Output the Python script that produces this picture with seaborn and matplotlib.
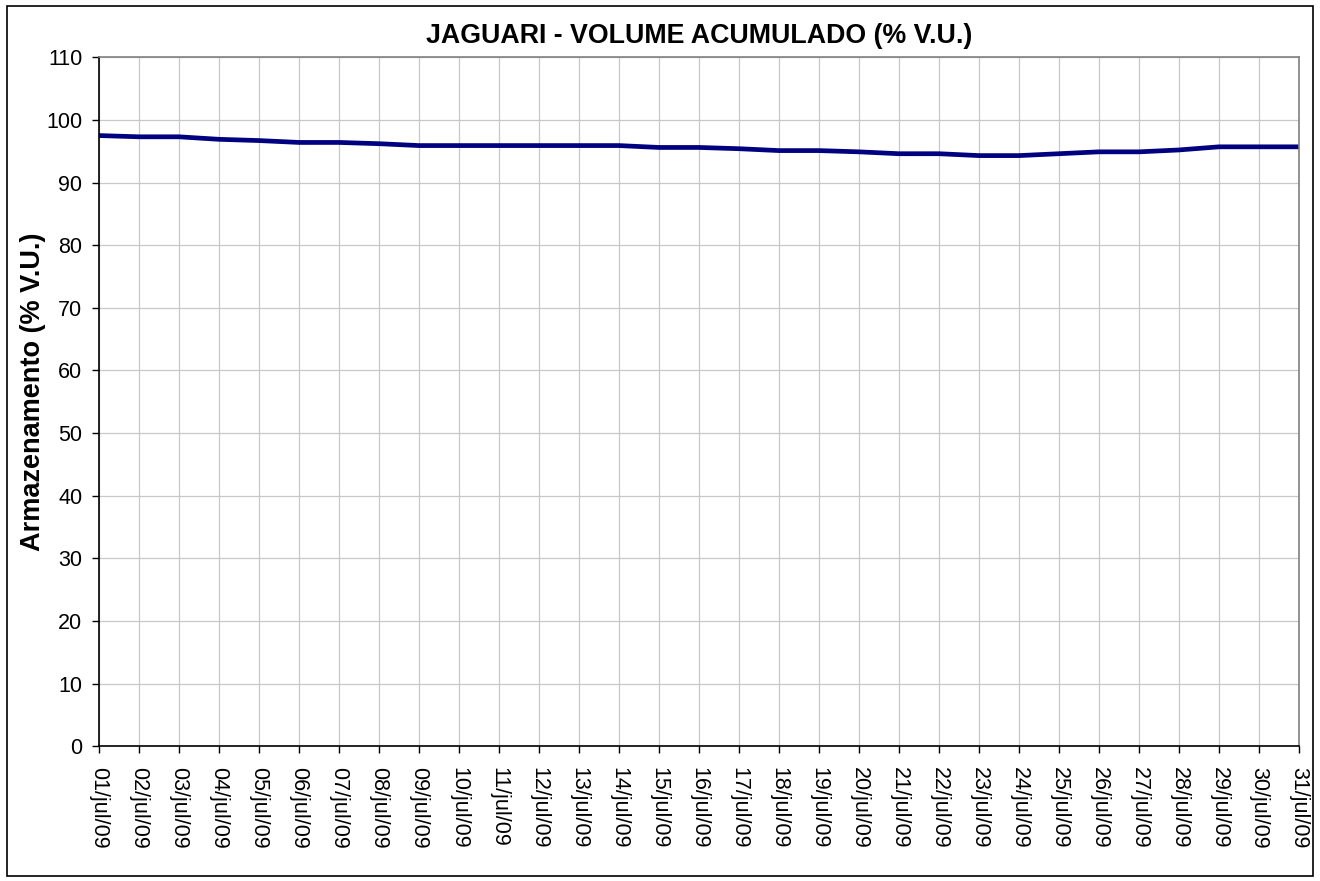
import matplotlib
matplotlib.use("Agg")
import matplotlib.pyplot as plt
import seaborn as sns
import pandas as pd
from matplotlib.patches import Rectangle

# Data
days = [f"{d:02d}/jul/09" for d in range(1, 32)]
volume = [97.5, 97.3, 97.3, 96.9, 96.7, 96.4, 96.4, 96.2, 95.9, 95.9,
          95.9, 95.9, 95.9, 95.9, 95.6, 95.6, 95.4, 95.1, 95.1, 94.9,
          94.6, 94.6, 94.3, 94.3, 94.6, 94.9, 94.9, 95.2, 95.7, 95.7, 95.7]
y_ticks = list(range(0, 111, 10))

sns.set_theme(style="whitegrid")
plt.rcParams['font.family'] = ['Liberation Sans', 'DejaVu Sans']
plt.rcParams['text.color'] = 'black'

df = pd.DataFrame({"dia": days, "volume": volume})

fig = plt.figure(figsize=(13.2, 8.81), dpi=100)
ax = fig.add_axes([0.075, 0.153, 0.909, 0.782])

sns.lineplot(data=df, x="dia", y="volume", color="#000080", linewidth=3.4, ax=ax, sort=False)

ax.set_xlim(0, len(days) - 1)
ax.set_ylim(0, 110)
ax.set_yticks(y_ticks)
ax.set_xticks(range(len(days)))
ax.set_xticklabels(days, rotation=270, fontsize=15.5)
ax.tick_params(axis='y', labelsize=15.5, pad=7)
ax.tick_params(axis='x', pad=10)
ax.tick_params(axis='both', which='major', direction='out', length=5, width=1,
               color='black', labelcolor='black', bottom=True, left=True)

ax.grid(True, color='#c8c8c8', linewidth=0.9)
ax.set_facecolor('white')
for side in ['top', 'right']:
    ax.spines[side].set_color('#808080')
    ax.spines[side].set_linewidth(1.2)
for side in ['left', 'bottom']:
    ax.spines[side].set_color('black')
    ax.spines[side].set_linewidth(1.2)

ax.set_xlabel('')
ax.set_ylabel('Armazenamento (% V.U.)', fontsize=19.5, fontweight='bold', color='black')
ax.yaxis.set_label_coords(-0.044, 0.515)
ax.set_title('JAGUARI - VOLUME ACUMULADO (% V.U.)', fontsize=19.3, fontweight='bold', pad=10, color='black')

# outer chart border
fig.patches.append(Rectangle((0.005, 0.006), 0.99, 0.987, transform=fig.transFigure,
                             fill=False, edgecolor='black', linewidth=1.2))

plt.savefig('out.png', dpi=100)
plt.close()
